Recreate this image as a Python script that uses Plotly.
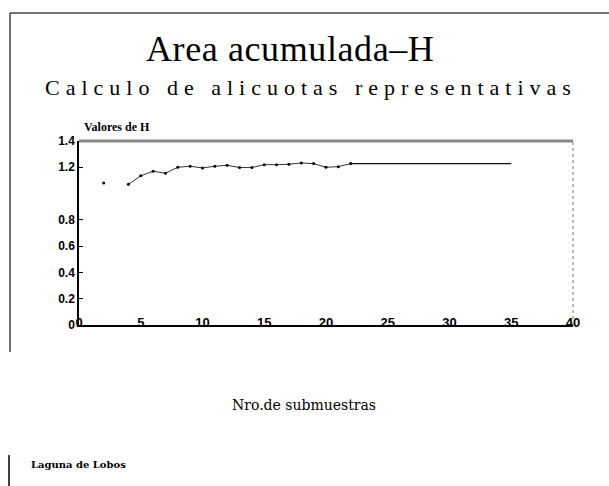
import plotly.graph_objects as go

# ---- data ----
x_isolated = [2]
h_isolated = [1.08]

n_submuestras = [4, 5, 6, 7, 8, 9, 10, 11, 12, 13, 14, 15, 16, 17, 18, 19, 20, 21, 22]
valores_h = [1.07, 1.135, 1.17, 1.155, 1.20, 1.208, 1.195, 1.208, 1.215, 1.198, 1.198,
             1.22, 1.22, 1.223, 1.233, 1.228, 1.20, 1.205, 1.228]

x_plateau = [22, 35]
h_plateau = [1.228, 1.228]

x_ticks = [0, 5, 10, 15, 20, 25, 30, 35, 40]
y_ticks = [0, 0.2, 0.4, 0.6, 0.8, 1.2, 1.4]
y_tick_text = ["0", "0.2", "0.4", "0.6", "0.8", "1.2", "1.4"]

W, H = 609, 486
L, R, T, B = 79, 36, 141, 161
ph = H - T - B
pw = W - L - R


def py(p):
    return (H - B - p) / ph


def px(p):
    return (p - L) / pw


fig = go.Figure()
fig.add_trace(go.Scatter(x=x_plateau, y=h_plateau, mode="lines",
                         line=dict(color="#111", width=1.3), showlegend=False))
fig.add_trace(go.Scatter(x=n_submuestras, y=valores_h, mode="lines+markers",
                         line=dict(color="#333", width=1),
                         marker=dict(color="#000", size=3), showlegend=False))
fig.add_trace(go.Scatter(x=x_isolated, y=h_isolated, mode="markers",
                         marker=dict(color="#000", size=3), showlegend=False))

fig.update_layout(
    width=W, height=H,
    margin=dict(l=L, r=R, t=T, b=B),
    paper_bgcolor="white", plot_bgcolor="white",
    xaxis=dict(range=[0, 40], tickvals=x_ticks, showgrid=False, zeroline=False,
               showline=True, linecolor="#000", linewidth=1.5, ticks="",
               tickfont=dict(family="Liberation Sans", size=13, color="#000", weight="bold"),
               ticklabelstandoff=-15),
    yaxis=dict(range=[0, 1.4], tickvals=y_ticks, ticktext=y_tick_text, showgrid=False,
               zeroline=False, showline=True, linecolor="#000", linewidth=1.5,
               ticks="inside", ticklen=4, tickcolor="#000",
               tickfont=dict(family="Liberation Sans", size=12, color="#000", weight="bold")),
    shapes=[
        dict(type="line", xref="paper", yref="paper", x0=0, x1=1, y0=1, y1=1,
             line=dict(color="#888", width=3)),
        dict(type="line", xref="paper", yref="paper", x0=1, x1=1, y0=0, y1=1,
             line=dict(color="#777", width=1, dash="dot")),
        dict(type="line", xref="paper", yref="paper", x0=px(10), x1=px(609), y0=py(13), y1=py(13),
             line=dict(color="#444", width=1.5)),
        dict(type="line", xref="paper", yref="paper", x0=px(10), x1=px(10), y0=py(13), y1=py(352),
             line=dict(color="#444", width=1.5)),
        dict(type="line", xref="paper", yref="paper", x0=px(9), x1=px(9), y0=py(455), y1=py(486),
             line=dict(color="#000", width=1.5)),
    ],
    annotations=[
        dict(text='<span style="letter-spacing:0.6px">Area acumulada\u2013H</span>',
             xref="paper", yref="paper", x=px(290), y=py(49),
             showarrow=False, xanchor="center", yanchor="middle",
             font=dict(family="Liberation Serif", size=36, color="#000")),
        dict(text='<span style="letter-spacing:6px">Calculo de alicuotas representativas</span>',
             xref="paper", yref="paper",
             x=px(311), y=py(88), showarrow=False, xanchor="center", yanchor="middle",
             font=dict(family="Liberation Serif", size=22, color="#000")),
        dict(text="Valores de H", xref="paper", yref="paper", x=px(82), y=py(127),
             showarrow=False, xanchor="left", yanchor="middle",
             font=dict(family="Liberation Serif", size=12, color="#000", weight="bold")),
        dict(text="Nro.de submuestras", xref="paper", yref="paper", x=px(304), y=py(405),
             showarrow=False, xanchor="center", yanchor="middle",
             font=dict(family="DejaVu Serif", size=14, color="#000")),
        dict(text="Laguna de Lobos", xref="paper", yref="paper", x=px(29), y=py(464),
             showarrow=False, xanchor="left", yanchor="middle",
             font=dict(family="DejaVu Serif", size=10, color="#000", weight="bold")),
    ],
)

fig.write_html("out.html", config={"displayModeBar": False},
               post_script="document.body.style.margin='0';")
